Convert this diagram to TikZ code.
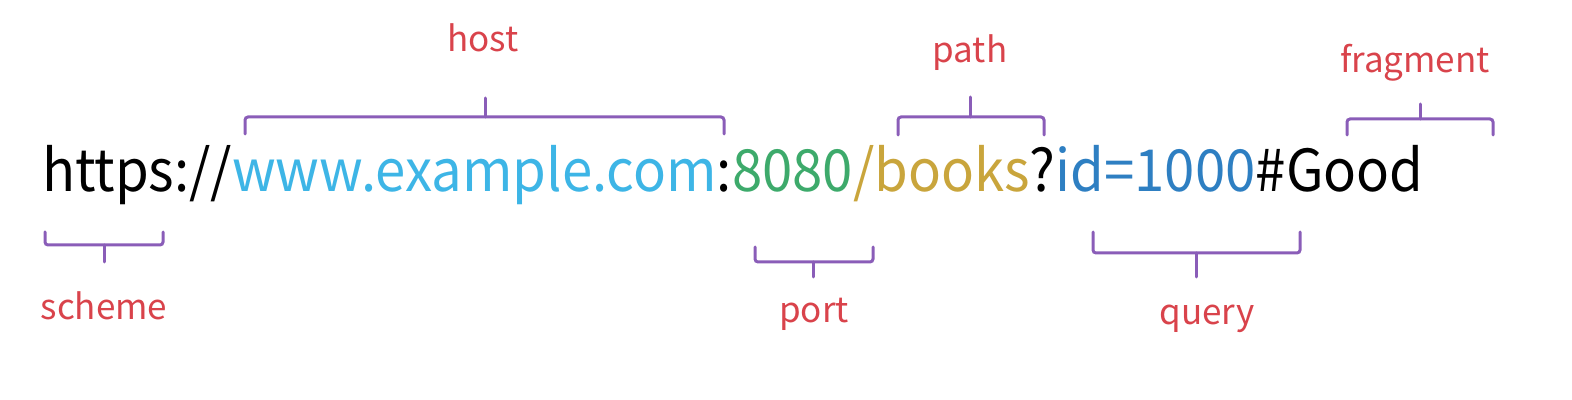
\documentclass[tikz,border=0pt]{standalone}
\usepackage{fontspec}
\setmainfont{Noto Sans CJK SC}
\definecolor{hostc}{HTML}{3DB5E6}
\definecolor{portc}{HTML}{3DAA6B}
\definecolor{pathc}{HTML}{C9A53C}
\definecolor{queryc}{HTML}{2E7FC2}
\definecolor{labc}{HTML}{D9434B}
\definecolor{brc}{HTML}{8A5DB8}
\tikzset{
  seg/.style={inner sep=0pt, outer sep=0pt, anchor=base west, xscale=0.94, transform shape, font=\fontsize{29}{35}\selectfont},
  lab/.style={inner sep=0pt, anchor=base, text=labc, font=\fontsize{17.5}{21}\selectfont},
  brace/.style={draw=brc, line width=1.5pt, rounded corners=1.5pt, line cap=round}
}
\begin{document}
\begin{tikzpicture}[x=0.5pt,y=-0.5pt]
\useasboundingbox (0,0) rectangle (1572,400);
% URL segments
\node[seg] (s1) at (42,192) {https://};
\node[seg, text=hostc] (s2) at (s1.base east) {www.example.com};
\node[seg] (s3) at (s2.base east) {:};
\node[seg, text=portc] (s4) at (s3.base east) {8080};
\node[seg, text=pathc] (s5) at (s4.base east) {/books};
\node[seg] (s6) at (s5.base east) {?};
\node[seg, text=queryc] (s7) at (s6.base east) {id=1000};
\node[seg] (s8) at (s7.base east) {\#Good};
% labels
\node[lab] (lhost) at (483,52) {host};
\node[lab] (lpath) at (970,63) {path};
\node[lab] (lfrag) at (1415,73) {fragment};
\node[lab] (lscheme) at (104,320) {scheme};
\node[lab] (lport) at (814,322) {port};
\node[lab] (lquery) at (1207,325) {query};
% top braces
\draw[brace] (245,134) -- (245,117) -- (724,117) -- (724,134);
\draw[brace] (485,117) -- (485,98);
\draw[brace] (898,135) -- (898,117) -- (1044,117) -- (1044,135);
\draw[brace] (970,117) -- (970,97);
\draw[brace] (1347,135) -- (1347,119) -- (1493,119) -- (1493,135);
\draw[brace] (1420,119) -- (1420,104);
% bottom braces
\draw[brace] (45,232) -- (45,245) -- (163,245) -- (163,232);
\draw[brace] (104,245) -- (104,262);
\draw[brace] (755,247) -- (755,262) -- (873,262) -- (873,247);
\draw[brace] (813,262) -- (813,277);
\draw[brace] (1093,232) -- (1093,253) -- (1300,253) -- (1300,232);
\draw[brace] (1196,253) -- (1196,277);
\end{tikzpicture}
\end{document}
